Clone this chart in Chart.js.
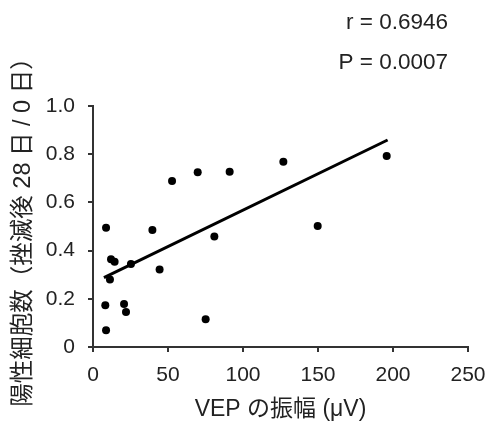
<!DOCTYPE html>
<html>
<head>
<meta charset="utf-8">
<script src="https://cdn.jsdelivr.net/npm/chart.js@4/dist/chart.umd.min.js"></script>
<style>
  html, body { margin: 0; padding: 0; background: #fff; }
  #wrap { width: 489px; height: 425px; }
</style>
</head>
<body>
<div id="wrap"><canvas id="vep" width="489" height="425"></canvas></div>
<script>
// VEP amplitude (µV) vs ratio of positive cells (day 28 / day 0)
const vepAmp = [8.7, 8.2, 8.7, 11.3, 12, 14.4, 20.7, 22, 25.3, 39.6, 44.4, 52.7, 69.8, 75.1, 80.9, 91.1, 126.9, 149.8, 195.8]
const cellRatio = [0.495, 0.173, 0.07, 0.28, 0.364, 0.354, 0.178, 0.145, 0.344, 0.485, 0.322, 0.689, 0.725, 0.115, 0.458, 0.727, 0.769, 0.502, 0.793]

// fitted line end points
const trendX = [7.3, 196.4]
const trendY = [0.288, 0.859]

const xTicks = [0, 50, 100, 150, 200, 250]
const yTicks = [0, 0.2, 0.4, 0.6, 0.8, 1.0]
const statLines = ['r = 0.6946', 'P = 0.0007']

const FONT = '"Liberation Sans", Arial, "Noto Sans CJK JP", sans-serif'
const INK = '#222'

const statsText = {
    id: 'statsText',
    afterDraw(chart) {
        const { ctx, chartArea } = chart
        ctx.save()
        ctx.fillStyle = INK
        ctx.font = '22.5px ' + FONT
        ctx.textAlign = 'right'
        ctx.textBaseline = 'middle'
        const rx = chartArea.right - 20
        ctx.fillText(statLines[0], rx, 23)
        ctx.fillText(statLines[1], rx, 63)
        ctx.restore()
    }
}

const config = {
    type: 'scatter',
    data: {
        datasets: [
            {
                label: 'points',
                data: vepAmp.map((v, i) => ({ x: v, y: cellRatio[i] })),
                backgroundColor: '#000',
                borderWidth: 0,
                pointRadius: 4
            },
            {
                type: 'line',
                label: 'fit',
                data: trendX.map((v, i) => ({ x: v, y: trendY[i] })),
                borderColor: '#000',
                borderWidth: 3,
                pointRadius: 0,
                fill: false
            }
        ]
    },
    options: {
        responsive: false,
        animation: false,
        layout: { padding: { top: 106, right: 21, left: 0, bottom: 0 } },
        plugins: {
            legend: { display: false },
            tooltip: { enabled: false }
        },
        scales: {
            x: {
                type: 'linear',
                min: 0,
                max: 250,
                afterBuildTicks(axis) { axis.ticks = xTicks.map(v => ({ value: v })) },
                afterFit(axis) {
                    axis.height = 78
                    axis.paddingLeft = 0
                    axis.paddingRight = 0
                },
                border: { color: '#333', width: 2 },
                grid: { drawOnChartArea: false, color: '#333', lineWidth: 2, tickLength: 5 },
                ticks: { color: INK, font: { family: FONT, size: 21 }, padding: 11, maxRotation: 0 },
                title: {
                    display: true,
                    text: 'VEP の振幅 (μV)',
                    color: INK,
                    font: { family: FONT, size: 23 },
                    padding: { top: 0, bottom: 2 }
                }
            },
            y: {
                min: 0,
                max: 1,
                afterBuildTicks(axis) { axis.ticks = yTicks.map(v => ({ value: v })) },
                afterFit(axis) {
                    axis.width = 93
                    axis.paddingTop = 0
                    axis.paddingBottom = 0
                },
                border: { color: '#333', width: 2 },
                grid: { drawOnChartArea: false, color: '#333', lineWidth: 2, tickLength: 5 },
                ticks: {
                    color: INK,
                    font: { family: FONT, size: 21 },
                    padding: 13,
                    callback: v => v === 0 ? '0' : v.toFixed(1)
                },
                title: {
                    display: true,
                    text: '陽性細胞数（挫滅後 28 日 / 0 日）',
                    color: INK,
                    font: { family: FONT, size: 23.5 },
                    padding: { top: 9, bottom: 0 }
                }
            }
        }
    },
    plugins: [statsText]
}

new Chart(document.getElementById('vep'), config)
</script>
</body>
</html>
